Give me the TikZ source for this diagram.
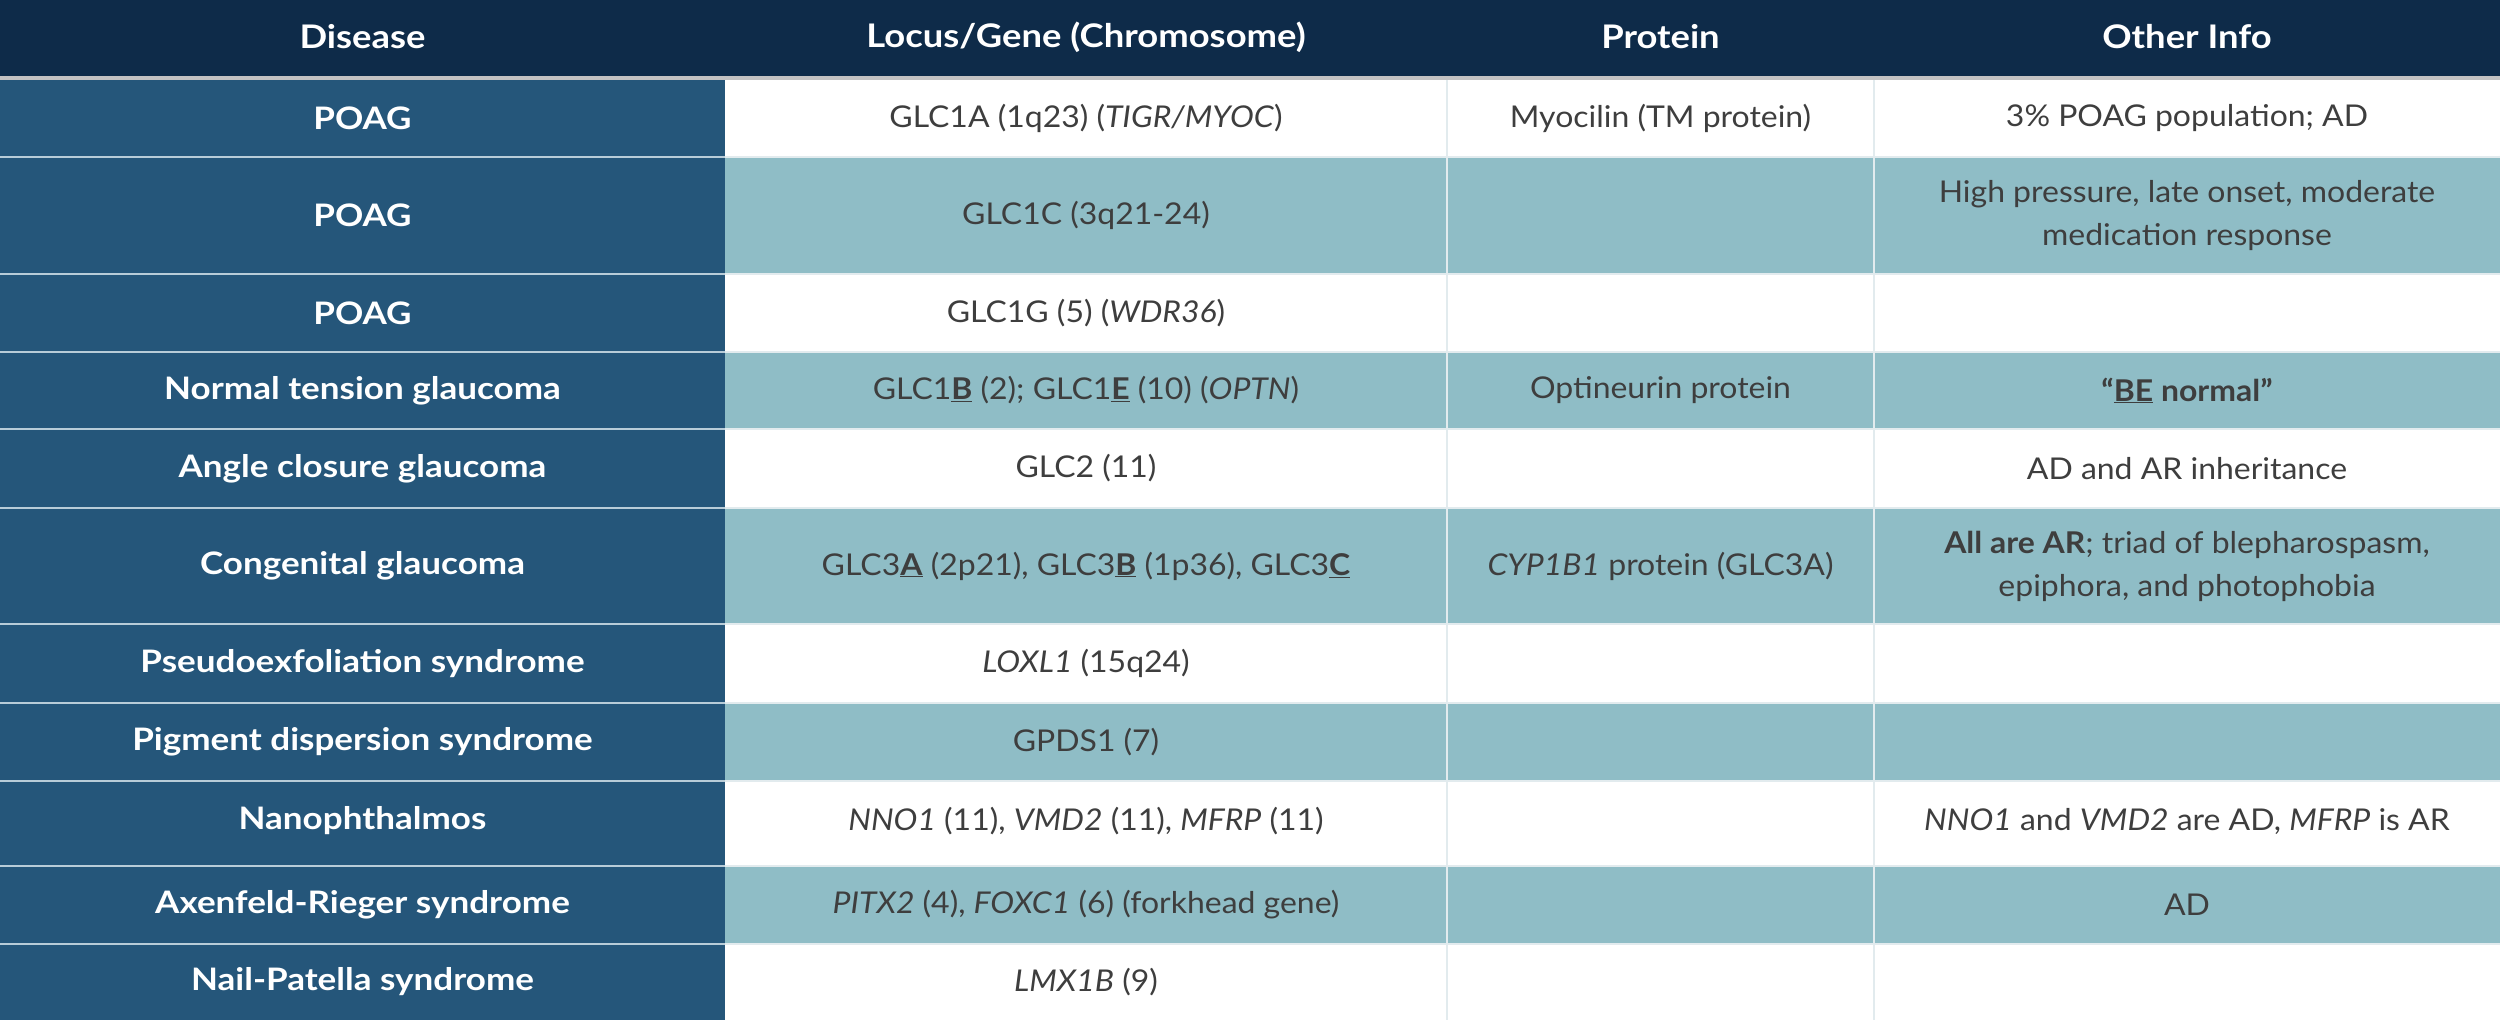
\documentclass[tikz,border=0pt]{standalone}
\usepackage{fontspec}
\setmainfont{Lato}[FakeStretch=1.065]
\newfontfamily\dzfont{Lato}[FakeStretch=1.13]
\newfontfamily\hdfont{Lato}[FakeStretch=1.12]
\definecolor{hdr}{HTML}{0E2B49}
\definecolor{lcol}{HTML}{25567A}
\definecolor{rowteal}{HTML}{8FBDC6}
\definecolor{txt}{HTML}{3E3E3E}
\definecolor{hline}{HTML}{C2C2C2}
\definecolor{lsep}{HTML}{B8CCD8}
\definecolor{dsep}{HTML}{E2EBEE}
\begin{document}
\begin{tikzpicture}[x=1pt,y=-1pt,
  hd/.style={text=white,font=\hdfont\fontsize{32.5}{36}\selectfont\bfseries,inner sep=0pt},
  dz/.style={text=white,font=\dzfont\fontsize{31}{36}\selectfont\bfseries,inner sep=0pt},
  cell/.style={text=txt,font=\fontsize{30}{43}\selectfont,align=center,inner sep=0pt},
  tealrow/.style={fill=rowteal},
  leftsep/.style={draw=lsep,line width=2pt},
  datasep/.style={draw=dsep,line width=1.5pt}]
\useasboundingbox (0,0) rectangle (2500,1020);
% backgrounds
\fill[white] (0,0) rectangle (2500,1020);
\fill[hdr] (0,0) rectangle (2500,76);
\fill[hline] (0,76) rectangle (2500,80);
\fill[lcol] (0,80) rectangle (725,1020);
\foreach \a/\b in {157/274,352/429,508/624,703/781,866/944}
  \path[tealrow] (725,\a) rectangle (2500,\b);
% separators
\foreach \y in {157,274,352,429,508,624,703,781,866,944}{
  \path[leftsep] (0,\y) -- (725,\y);
  \path[datasep] (725,\y) -- (2500,\y);
}
\foreach \x in {1447,1874}
  \path[datasep] (\x,80) -- (\x,1020);
% header
\node[hd] (h1) at (362.5,37) {Disease};
\node[hd] (h2) at (1086,37) {Locus/Gene (Chromosome)};
\node[hd] (h3) at (1660.5,37) {Protein};
\node[hd] (h4) at (2187,37) {Other Info};
% disease column
\node[dz] (d1) at (362.5,118.5) {POAG};
\node[dz] (d2) at (362.5,215.5) {POAG};
\node[dz] (d3) at (362.5,313) {POAG};
\node[dz] (d4) at (362.5,390.5) {Normal tension glaucoma};
\node[dz] (d5) at (362.5,468.5) {Angle closure glaucoma};
\node[dz] (d6) at (362.5,566) {Congenital glaucoma};
\node[dz] (d7) at (362.5,663.5) {Pseudoexfoliation syndrome};
\node[dz] (d8) at (362.5,742) {Pigment dispersion syndrome};
\node[dz] (d9) at (362.5,821) {Nanophthalmos};
\node[dz] (d10) at (362.5,905) {Axenfeld-Rieger syndrome};
\node[dz] (d11) at (362.5,982) {Nail-Patella syndrome};
% locus column
\node[cell] (l1) at (1086,118.5) {GLC1A (1q23) (\textit{TIGR/MYOC})};
\node[cell] (l2) at (1086,215.5) {GLC1C (3q21-24)};
\node[cell] (l3) at (1086,313) {GLC1G (5) (\textit{WDR36})};
\node[cell] (l4) at (1086,390.5) {GLC1\underline{\textbf{B}} (2); GLC1\underline{\textbf{E}} (10) (\textit{OPTN})};
\node[cell] (l5) at (1086,468.5) {GLC2 (11)};
\node[cell] (l6) at (1086,566) {GLC3\underline{\textbf{A}} (2p21), GLC3\underline{\textbf{B}} (1p36), GLC3\underline{\textbf{C}}};
\node[cell] (l7) at (1086,663.5) {\textit{LOXL1} (15q24)};
\node[cell] (l8) at (1086,742) {GPDS1 (7)};
\node[cell] (l9) at (1086,821) {\textit{NNO1} (11), \textit{VMD2} (11), \textit{MFRP} (11)};
\node[cell] (l10) at (1086,905) {\textit{PITX2} (4), \textit{FOXC1} (6) (forkhead gene)};
\node[cell] (l11) at (1086,982) {\textit{LMX1B} (9)};
% protein column
\node[cell] (p1) at (1660.5,118.5) {Myocilin (TM protein)};
\node[cell] (p4) at (1660.5,390.5) {Optineurin protein};
\node[cell] (p6) at (1660.5,566) {\textit{CYP1B1} protein (GLC3A)};
% other info column
\node[cell] (o1) at (2187,118.5) {3\% POAG population; AD};
\node[cell] (o2) at (2187,215.5) {High pressure, late onset, moderate\\medication response};
\node[cell] (o4) at (2187,390.5) {\textbf{``\underline{BE} normal''}};
\node[cell] (o5) at (2187,468.5) {AD and AR inheritance};
\node[cell] (o6) at (2187,566) {\textbf{All are AR}; triad of blepharospasm,\\epiphora, and photophobia};
\node[cell] (o9) at (2187,821) {\textit{NNO1} and \textit{VMD2} are AD, \textit{MFRP} is AR};
\node[cell] (o10) at (2187,905) {AD};
\end{tikzpicture}
\end{document}
